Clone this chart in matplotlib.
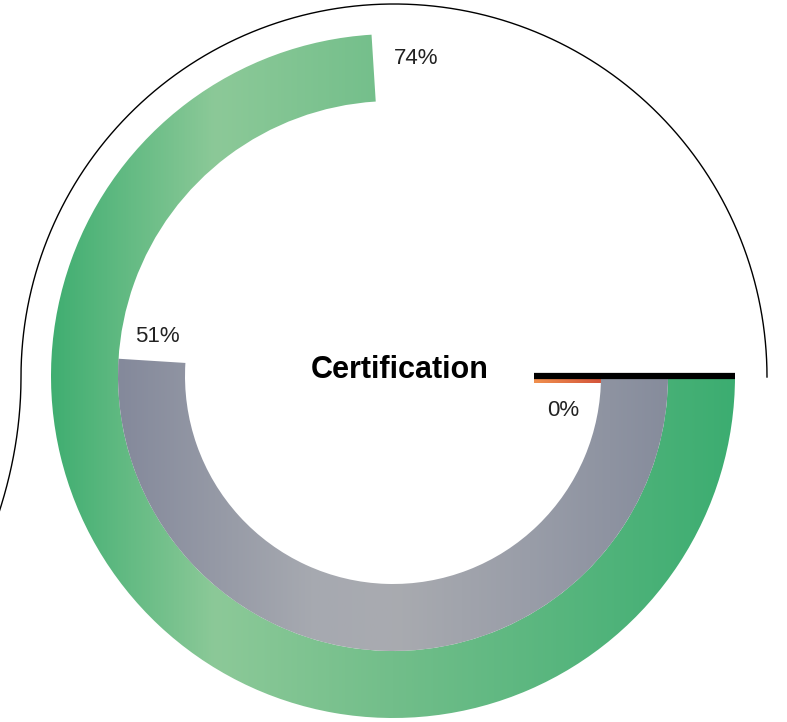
import matplotlib
matplotlib.use('Agg')
import matplotlib.pyplot as plt
import numpy as np
from matplotlib.patches import Wedge, Rectangle
from matplotlib.colors import LinearSegmentedColormap

plt.rcParams['font.family'] = ['Liberation Sans', 'DejaVu Sans']

# ring values, outer to inner
labels = ['74%', '51%', '0%']
values = [74, 51, 0]
title = 'Certification'

W, H = 787, 722
cx, cy = 393, 376
ring_w = 67
r_out = [342, 275, 208]

green = LinearSegmentedColormap.from_list(
    'g', [(0, '#40ae71'), (0.24, '#8cc998'), (0.5, '#72be8a'), (1, '#3cad71')])
grey = LinearSegmentedColormap.from_list(
    'gr', [(0, '#84899b'), (0.35, '#a6a9b0'), (0.5, '#a9abb0'), (0.75, '#999da8'), (1, '#868c9c')])
orange = LinearSegmentedColormap.from_list('o', ['#f0904e', '#d4553b'])
cmaps = [green, grey, orange]

fig = plt.figure(figsize=(W / 100, H / 100), dpi=100)
ax = fig.add_axes([0, 0, 1, 1])
ax.set_xlim(0, W)
ax.set_ylim(H, 0)
ax.set_aspect('equal')
ax.axis('off')

grad = np.linspace(0, 1, 512).reshape(1, -1)

for val, ro, cm in zip(values, r_out, cmaps):
    if val > 0:
        # y axis is flipped, so positive angles run clockwise on screen
        w = Wedge((cx, cy), ro, 0, val / 100 * 360, width=ring_w,
                  facecolor='none', edgecolor='none')
        ax.add_patch(w)
        im = ax.imshow(grad, cmap=cm, aspect='auto',
                       extent=[cx - ro, cx + ro, cy + ro, cy - ro], zorder=1)
        im.set_clip_path(w)
    else:
        # zero value: thin strip under the baseline
        strip = Rectangle((cx + ro - ring_w, cy + 3), ring_w, 4,
                          facecolor='none', edgecolor='none')
        ax.add_patch(strip)
        im = ax.imshow(grad, cmap=cm, aspect='auto',
                       extent=[cx + ro - ring_w, cx + ro, cy + 7, cy + 3], zorder=2)
        im.set_clip_path(strip)

# baseline at the start angle
ax.plot([cx + r_out[-1] - ring_w, cx + r_out[0]], [cy, cy],
        color='black', lw=4.5, solid_capstyle='butt', zorder=3)

# thin outer arc, bending off the left edge below the middle
R = 373
ocx, ocy = 394, 377
t = np.radians(np.linspace(0, -180, 400))
xs = ocx + R * np.cos(t)
ys = ocy + R * np.sin(t)
ty = np.linspace(ocy, 570, 120)[1:]
tx = (ocx - R) - 0.0012 * (ty - ocy) ** 2
xs = np.concatenate([xs, tx])
ys = np.concatenate([ys, ty])
ax.plot(xs, ys, color='black', lw=1.0, zorder=3)

ax.text(416, 59, labels[0], fontsize=16, ha='center', va='center', color='#222222')
ax.text(157, 337, labels[1], fontsize=16, ha='center', va='center', color='#222222')
ax.text(563, 410, labels[2], fontsize=16, ha='center', va='center', color='#222222')
ax.text(400, 370, title, fontsize=22, fontweight='bold', ha='center', va='center', color='black')

fig.savefig('out.png', dpi=100)
